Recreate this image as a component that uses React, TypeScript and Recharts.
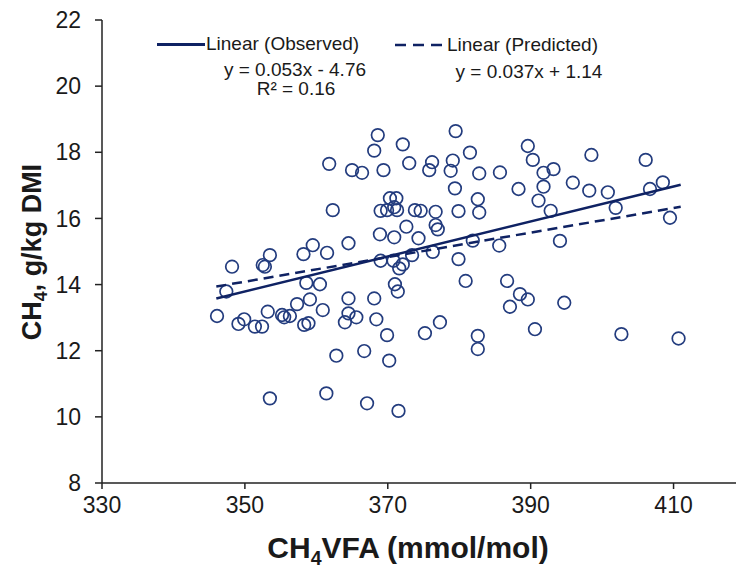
import React from 'react';
import { ScatterChart, Scatter, XAxis, YAxis } from 'recharts';

// CH4 per mol VFA (x) vs CH4 yield g/kg DMI (y)
const ch4Vfa = [
  346.1, 347.4, 348.2, 349.1, 349.9, 351.4, 352.4, 352.5, 352.8, 353.5,
  353.2, 353.5, 355.2, 355.5, 356.3, 357.3, 358.2, 358.3, 358.9, 358.6,
  359.1, 359.5, 360.5, 360.9, 361.5, 361.4, 361.8, 362.3, 362.8, 364.0,
  364.5, 365.6, 364.5, 364.5, 365.0, 366.4, 366.7, 367.1, 368.1, 368.4,
  368.1, 368.6, 368.9, 369.0, 369.0, 369.4, 369.9, 369.9, 370.2, 370.3,
  370.8, 370.9, 370.9, 371.0, 371.2, 371.3, 371.4, 371.5, 371.6, 372.1,
  372.1, 372.6, 373.0, 373.4, 373.8, 374.3, 374.6, 375.2, 375.8, 376.2,
  376.3, 376.7, 376.7, 377.0, 377.3, 378.8, 379.1, 379.4, 379.5, 379.9,
  379.9, 380.9, 381.5, 381.9, 382.6, 382.8, 382.6, 382.6, 382.8, 385.6,
  385.7, 386.7, 387.1, 388.3, 388.5, 389.6, 389.6, 390.3, 390.6, 391.1,
  391.8, 391.8, 392.8, 393.2, 394.1, 394.7, 395.9, 398.2, 398.5, 400.8,
  401.9, 402.7, 406.1, 406.7, 408.5, 409.5, 410.7,
];
const ch4Dmi = [
  13.05, 13.79, 14.54, 12.81, 12.95, 12.73, 12.73, 14.59, 14.54, 14.89,
  13.18, 10.56, 13.08, 13.01, 13.05, 13.41, 14.92, 12.78, 12.83, 14.05,
  13.55, 15.19, 14.01, 13.23, 14.96, 10.71, 17.65, 16.25, 11.85, 12.86,
  13.13, 13.01, 13.58, 15.25, 17.46, 17.38, 11.99, 10.41, 13.58, 12.95,
  18.05, 18.52, 15.52, 14.72, 16.23, 17.46, 16.25, 12.47, 11.7, 16.61,
  14.72, 15.43, 16.34, 14.01, 16.61, 16.25, 13.79, 10.18, 14.49, 14.61,
  18.24, 15.75, 17.67, 14.89, 16.25, 15.4, 16.23, 12.53, 17.46, 17.7,
  14.99, 15.8, 16.2, 15.67, 12.86, 17.44, 17.75, 16.91, 18.64, 16.22,
  14.77, 14.11, 17.99, 15.33, 16.58, 16.18, 12.45, 12.05, 17.36, 15.18,
  17.39, 14.11, 13.33, 16.89, 13.71, 13.55, 18.19, 17.77, 12.65, 16.54,
  17.38, 16.96, 16.23, 17.49, 15.32, 13.45, 17.08, 16.84, 17.92, 16.79,
  16.32, 12.5, 17.77, 16.89, 17.09, 16.02, 12.37,
];

// trend line end points
const trendX = [346, 411];
const observedTrend = [13.58, 17.02];
const predictedTrend = [13.94, 16.35];

const xTicks = [330, 350, 370, 390, 410];
const yTicks = [8, 10, 12, 14, 16, 18, 20, 22];

const points = ch4Vfa.map((x, i) => ({ x, y: ch4Dmi[i] }));
const observedLine = trendX.map((x, i) => ({ x, y: observedTrend[i] }));
const predictedLine = trendX.map((x, i) => ({ x, y: predictedTrend[i] }));

const FONT = '"Liberation Sans", Arial, sans-serif';
const NAVY = '#0f2263';
const RING = '#233c7e';

const Ring = (props: any) => (
  <circle cx={props.cx} cy={props.cy} r={6.3} fill="none" stroke={RING} strokeWidth={1.7} />
);
const NoDot = () => <g />;

const tickStyle = { fontSize: 23, fontFamily: FONT, fill: '#1a1a1a' };

const abs = (style: React.CSSProperties): React.CSSProperties => ({
  position: 'absolute',
  fontFamily: FONT,
  color: '#1a1a1a',
  whiteSpace: 'nowrap',
  ...style,
});

const sub = { fontSize: '0.65em', verticalAlign: '-0.35em' };

export default function App() {
  return (
    <div style={{ position: 'absolute', left: 0, top: 0, width: 736, height: 574, overflow: 'hidden', background: '#fff' }}>
      <ScatterChart width={745} height={574} margin={{ top: 20, right: 0, bottom: 0, left: 0 }}>
        <XAxis
          type="number"
          dataKey="x"
          domain={[330, 420]}
          ticks={xTicks}
          allowDataOverflow
          height={91}
          tickSize={6}
          tickMargin={8}
          tick={tickStyle}
          stroke="#222"
          strokeWidth={1.5}
        />
        <YAxis
          type="number"
          dataKey="y"
          domain={[8, 22]}
          ticks={yTicks}
          allowDataOverflow
          width={102}
          tickSize={7}
          tickMargin={14}
          tick={tickStyle}
          stroke="#222"
          strokeWidth={1.5}
        />
        <Scatter data={points} shape={Ring} isAnimationActive={false} />
        <Scatter
          data={observedLine}
          line={{ stroke: NAVY, strokeWidth: 2.5 }}
          shape={NoDot}
          isAnimationActive={false}
        />
        <Scatter
          data={predictedLine}
          line={{ stroke: NAVY, strokeWidth: 2.5, strokeDasharray: '10 6' }}
          shape={NoDot}
          isAnimationActive={false}
        />
      </ScatterChart>

      {/* legend + equations */}
      <div style={{ position: 'absolute', left: 157, top: 43, width: 48, height: 2.5, background: NAVY }} />
      <div style={abs({ left: 206, top: 34, fontSize: 19, lineHeight: '20px' })}>Linear (Observed)</div>
      <div style={abs({ left: 195, width: 200, textAlign: 'center', top: 60, fontSize: 19, lineHeight: '20px' })}>
        y = 0.053x - 4.76
      </div>
      <div style={abs({ left: 196, width: 200, textAlign: 'center', top: 79, fontSize: 19, lineHeight: '20px' })}>
        R² = 0.16
      </div>
      <svg style={{ position: 'absolute', left: 395, top: 40 }} width={52} height={10}>
        <line x1={0} y1={5} x2={50} y2={5} stroke={NAVY} strokeWidth={2.5} strokeDasharray="11 7" />
      </svg>
      <div style={abs({ left: 447, top: 35, fontSize: 19, lineHeight: '20px' })}>Linear (Predicted)</div>
      <div style={abs({ left: 429, width: 200, textAlign: 'center', top: 62, fontSize: 19, lineHeight: '20px' })}>
        y = 0.037x + 1.14
      </div>

      {/* axis titles */}
      <div
        style={abs({
          left: 208,
          width: 400,
          top: 532,
          textAlign: 'center',
          fontSize: 30,
          fontWeight: 'bold',
          lineHeight: '32px',
        })}
      >
        CH<span style={sub}>4</span>VFA (mmol/mol)
      </div>
      <div
        style={abs({
          left: -118,
          width: 300,
          top: 237,
          height: 30,
          textAlign: 'center',
          fontSize: 27,
          fontWeight: 'bold',
          lineHeight: '30px',
          transform: 'rotate(-90deg)',
        })}
      >
        CH<span style={sub}>4</span>, g/kg DMI
      </div>
    </div>
  );
}
